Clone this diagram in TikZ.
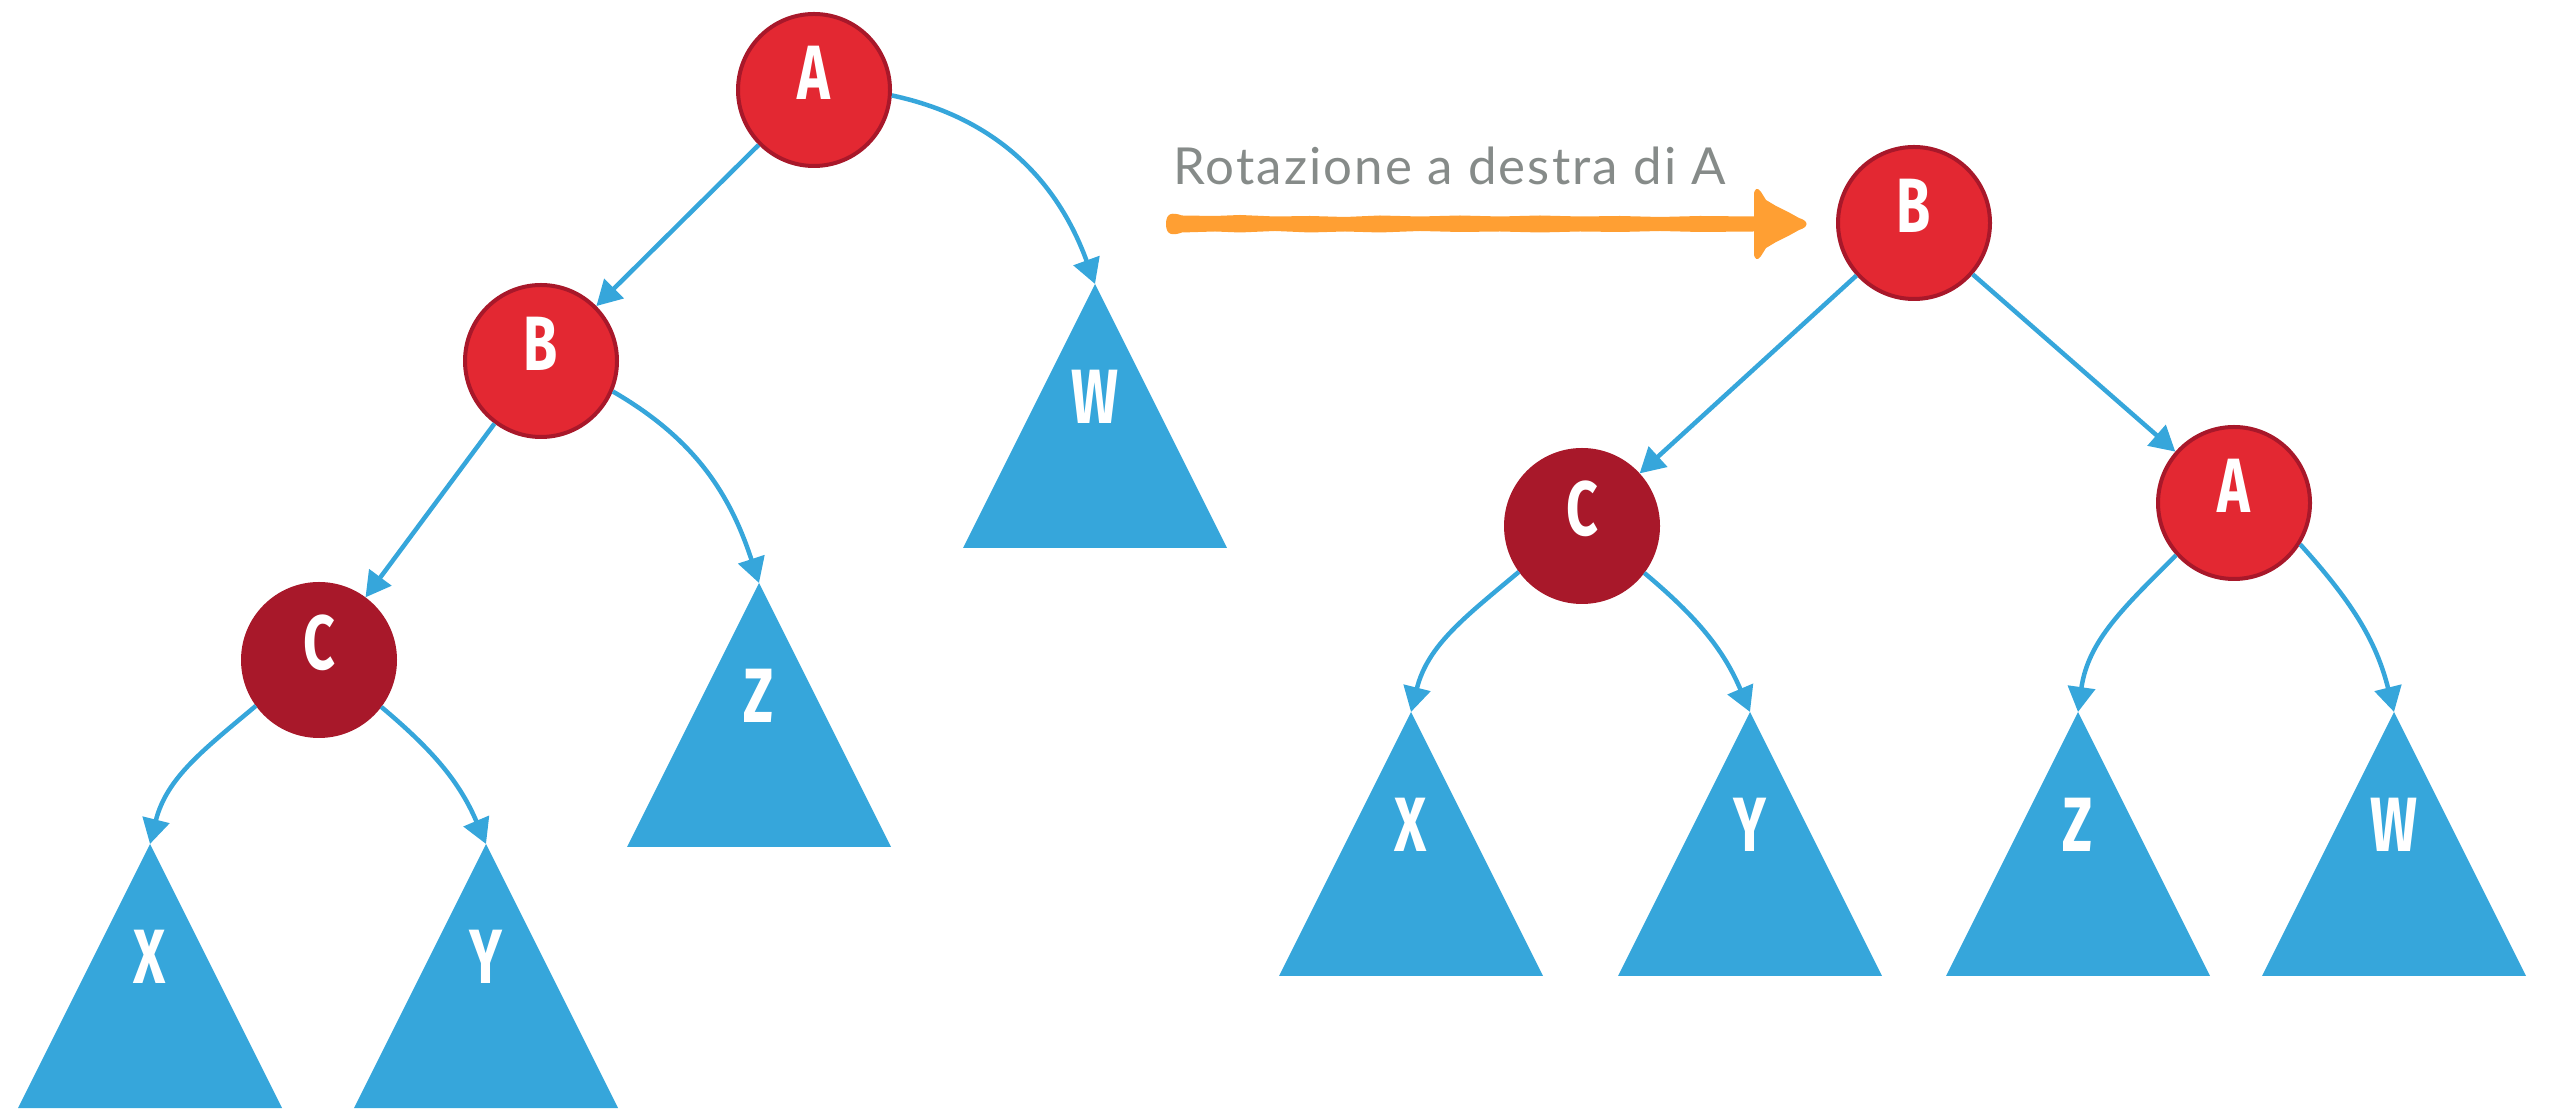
\documentclass[tikz,border=0pt]{standalone}
\usepackage{fontspec}
\setmainfont{Lato}[LetterSpace=4.2]
\newfontfamily\letfont{Fira Sans}[FakeStretch=0.72]
\usetikzlibrary{arrows.meta,calc}
\definecolor{rbfill}{HTML}{E32832}
\definecolor{rbdark}{HTML}{A8182A}
\definecolor{tblue}{HTML}{36A6DB}
\definecolor{aorange}{HTML}{FF9F33}
\definecolor{tgray}{HTML}{868B89}
\begin{document}
\begin{tikzpicture}[x=1pt,y=1pt,
  rednode/.style={circle, fill=rbfill, draw=rbdark, line width=4pt, minimum size=152pt, inner sep=0pt,
    text=white, font=\letfont\bfseries\fontsize{77}{77}\selectfont, text height=53pt, text depth=34pt},
  darknode/.style={rednode, fill=rbdark},
  tri/.style={fill=tblue},
  tlet/.style={text=white, font=\letfont\bfseries\fontsize{77}{77}\selectfont, text height=53pt, text depth=0pt, inner sep=0pt},
  conn/.style={draw=tblue, line width=4.5pt, -{Triangle[length=25pt,width=27pt]}},
]
\useasboundingbox (0,0) rectangle (2550,1108);

% ---------- left tree ----------
\coordinate (W1) at (1095,824);
\coordinate (Z1) at (759,525);
\coordinate (X1) at (150,264);
\coordinate (Y1) at (486,264);
\foreach \t in {W1,Z1,X1,Y1}{
  \fill[tri] (\t) -- ++(-132,-264) -- ++(264,0) -- cycle;
}
\node[tlet] (W1l) at ($(W1)+(0,-113)$) {W};
\node[tlet] (Z1l) at ($(Z1)+(0,-113)$) {Z};
\node[tlet] (X1l) at ($(X1)+(0,-113)$) {X};
\node[tlet] (Y1l) at ($(Y1)+(0,-113)$) {Y};

\node[rednode] (A1) at (814,1018) {A};
\node[rednode] (B1) at (541,747) {B};
\node[darknode] (C1) at (319,448) {C};

\draw[conn] (A1) -- (B1);
\draw[conn] (B1) -- (C1);
\draw[conn] (A1.-4) to[out=-12,in=110] (W1);
\draw[conn] (B1.-23) to[out=-30,in=108] (Z1);
\draw[conn] (C1.-144) to[out=-140,in=76] (X1);
\draw[conn] (C1.-37) to[out=-40,in=113] (Y1);

% ---------- label and orange arrow ----------
\node[anchor=base west, text=tgray, font=\fontsize{51}{51}\selectfont, inner sep=0pt] (lbl) at (1173,923) {Rotazione a destra di A};

\coordinate (oa) at (1166,884);
\fill[aorange] (oa) .. controls (1166,895) and (1172,896) .. (1182,892.5)
  -- (1215,892) -- (1240,893) -- (1275,891.5) -- (1310,892) -- (1345,891)
  -- (1380,892.5) -- (1420,891.5) -- (1460,892.5) -- (1500,891.5) -- (1540,892.5)
  -- (1580,891.5) -- (1620,892) -- (1660,891) -- (1700,892) -- (1754,891.5)
  -- (1754,913) .. controls (1754,920) and (1758,921) .. (1761,916)
  -- (1766,908) -- (1776,902) -- (1790,895) -- (1799,890)
  .. controls (1809,887) and (1809,881) .. (1799,878)
  -- (1790,873) -- (1776,866) -- (1766,860) -- (1761,852)
  .. controls (1758,847) and (1754,848) .. (1754,855)
  -- (1754,876.5) -- (1700,876) -- (1660,877) -- (1620,876) -- (1580,876.5)
  -- (1540,875.5) -- (1500,876.5) -- (1460,876) -- (1420,877) -- (1380,875.5)
  -- (1345,876.5) -- (1310,875.5) -- (1275,877) -- (1240,875.5) -- (1215,876.5)
  -- (1182,875.5) .. controls (1172,872) and (1166,873) .. (oa) -- cycle;

% ---------- right tree ----------
\coordinate (X2) at (1411,396);
\coordinate (Y2) at (1750,396);
\coordinate (Z2) at (2078,396);
\coordinate (W2) at (2394,396);
\foreach \t in {X2,Y2,Z2,W2}{
  \fill[tri] (\t) -- ++(-132,-264) -- ++(264,0) -- cycle;
}
\node[tlet] (X2l) at ($(X2)+(0,-113)$) {X};
\node[tlet] (Y2l) at ($(Y2)+(0,-113)$) {Y};
\node[tlet] (Z2l) at ($(Z2)+(0,-113)$) {Z};
\node[tlet] (W2l) at ($(W2)+(0,-113)$) {W};

\node[rednode] (B2) at (1914,885) {B};
\node[darknode] (C2) at (1582,582) {C};
\node[rednode] (A2) at (2234,605) {A};

\draw[conn] (B2) -- (C2);
\draw[conn] (B2) -- (A2);
\draw[conn] (C2.-144) to[out=-140,in=76] (X2);
\draw[conn] (C2.-37) to[out=-40,in=113] (Y2);
\draw[conn] (A2.-138) to[out=-135,in=82] (Z2);
\draw[conn] (A2.-32) to[out=-48,in=104] (W2);
\end{tikzpicture}
\end{document}
